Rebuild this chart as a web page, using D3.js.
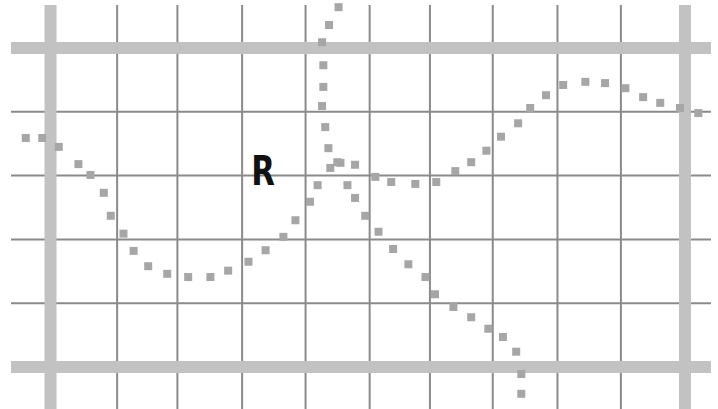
<!DOCTYPE html>
<html>
<head>
<meta charset="utf-8">
<script src="https://cdn.jsdelivr.net/npm/d3@7"></script>
<style>
html,body{margin:0;padding:0;background:#fff;}
svg{display:block;}
</style>
</head>
<body>
<svg id="chart" width="718" height="409"></svg>
<script>
// Grid ticks (data units)
const xMinorTicks = [1.05, 2.0, 3.02, 4.02, 5.03, 5.98, 6.97, 7.99, 8.99];
const yMinorTicks = [1, 2, 3, 4];
const xMajorTicks = [0, 10];
const yMajorTicks = [0, 5];

// Dotted curve 1 (wave)
const curve1X = [-0.39, -0.13, 0.13, 0.44, 0.63, 0.84, 0.95, 1.15, 1.31, 1.54, 1.84, 2.17, 2.52, 2.80, 3.12, 3.39, 3.67, 3.86, 4.09, 4.21, 4.41, 4.57, 4.80, 5.12, 5.37, 5.75, 6.08, 6.38, 6.63, 6.87, 7.10, 7.37, 7.56, 7.81, 8.08, 8.43, 8.74, 9.06, 9.34, 9.61, 9.92, 10.21];
const curve1Y = [3.59, 3.59, 3.45, 3.18, 3.01, 2.73, 2.37, 2.09, 1.82, 1.58, 1.46, 1.41, 1.41, 1.51, 1.65, 1.83, 2.04, 2.30, 2.59, 2.85, 3.12, 3.20, 3.17, 2.98, 2.90, 2.87, 2.90, 3.07, 3.21, 3.39, 3.61, 3.82, 4.06, 4.26, 4.42, 4.47, 4.45, 4.37, 4.23, 4.14, 4.06, 3.98];

// Dotted curve 2 (falling)
const curve2X = [4.54, 4.39, 4.28, 4.30, 4.30, 4.28, 4.33, 4.38, 4.52, 4.68, 4.80, 4.96, 5.17, 5.40, 5.64, 5.91, 6.06, 6.35, 6.63, 6.90, 7.13, 7.34, 7.42, 7.42];
const curve2Y = [5.64, 5.36, 5.09, 4.73, 4.39, 4.09, 3.76, 3.43, 3.21, 2.85, 2.65, 2.37, 2.12, 1.85, 1.61, 1.41, 1.14, 0.94, 0.78, 0.60, 0.47, 0.24, -0.11, -0.42];

const labelText = "R";
const labelPos = [3.35, 2.86];

const svg = d3.select("#chart");
const x = d3.scaleLinear().domain([0, 10]).range([50.5, 685]);
const y = d3.scaleLinear().domain([0, 5]).range([367, 48]);

const xExt = [x.invert(11), x.invert(711)];
const yExt = [y.invert(409), y.invert(5)];

// thin grid
svg.append("g").selectAll("line").data(xMinorTicks).join("line")
  .attr("x1", d => x(d)).attr("x2", d => x(d))
  .attr("y1", y(yExt[1])).attr("y2", y(yExt[0]))
  .attr("stroke", "#8a8a8a").attr("stroke-width", 2);
svg.append("g").selectAll("line").data(yMinorTicks).join("line")
  .attr("y1", d => y(d)).attr("y2", d => y(d))
  .attr("x1", x(xExt[0])).attr("x2", x(xExt[1]))
  .attr("stroke", "#8a8a8a").attr("stroke-width", 2);

// thick grid
svg.append("g").selectAll("line").data(xMajorTicks).join("line")
  .attr("x1", d => x(d)).attr("x2", d => x(d))
  .attr("y1", y(yExt[1])).attr("y2", y(yExt[0]))
  .attr("stroke", "#c2c2c2").attr("stroke-width", 12);
svg.append("g").selectAll("line").data(yMajorTicks).join("line")
  .attr("y1", d => y(d)).attr("y2", d => y(d))
  .attr("x1", x(xExt[0])).attr("x2", x(xExt[1]))
  .attr("stroke", "#c2c2c2").attr("stroke-width", 12);

// dots
const s = 8;
function drawDots(xs, ys) {
  svg.append("g").selectAll("rect").data(xs.map((d, i) => [d, ys[i]])).join("rect")
    .attr("x", d => x(d[0]) - s / 2).attr("y", d => y(d[1]) - s / 2)
    .attr("width", s).attr("height", s)
    .attr("fill", "#a6a6a6");
}
drawDots(curve1X, curve1Y);
drawDots(curve2X, curve2Y);

// label
svg.append("text")
  .attr("transform", `translate(${x(labelPos[0])},${y(labelPos[1])}) scale(0.75,1)`)
  .attr("text-anchor", "middle")
  .attr("font-family", "DejaVu Sans, sans-serif")
  .attr("font-weight", "bold")
  .attr("font-size", 41)
  .attr("fill", "#111")
  .text(labelText);
</script>
</body>
</html>
